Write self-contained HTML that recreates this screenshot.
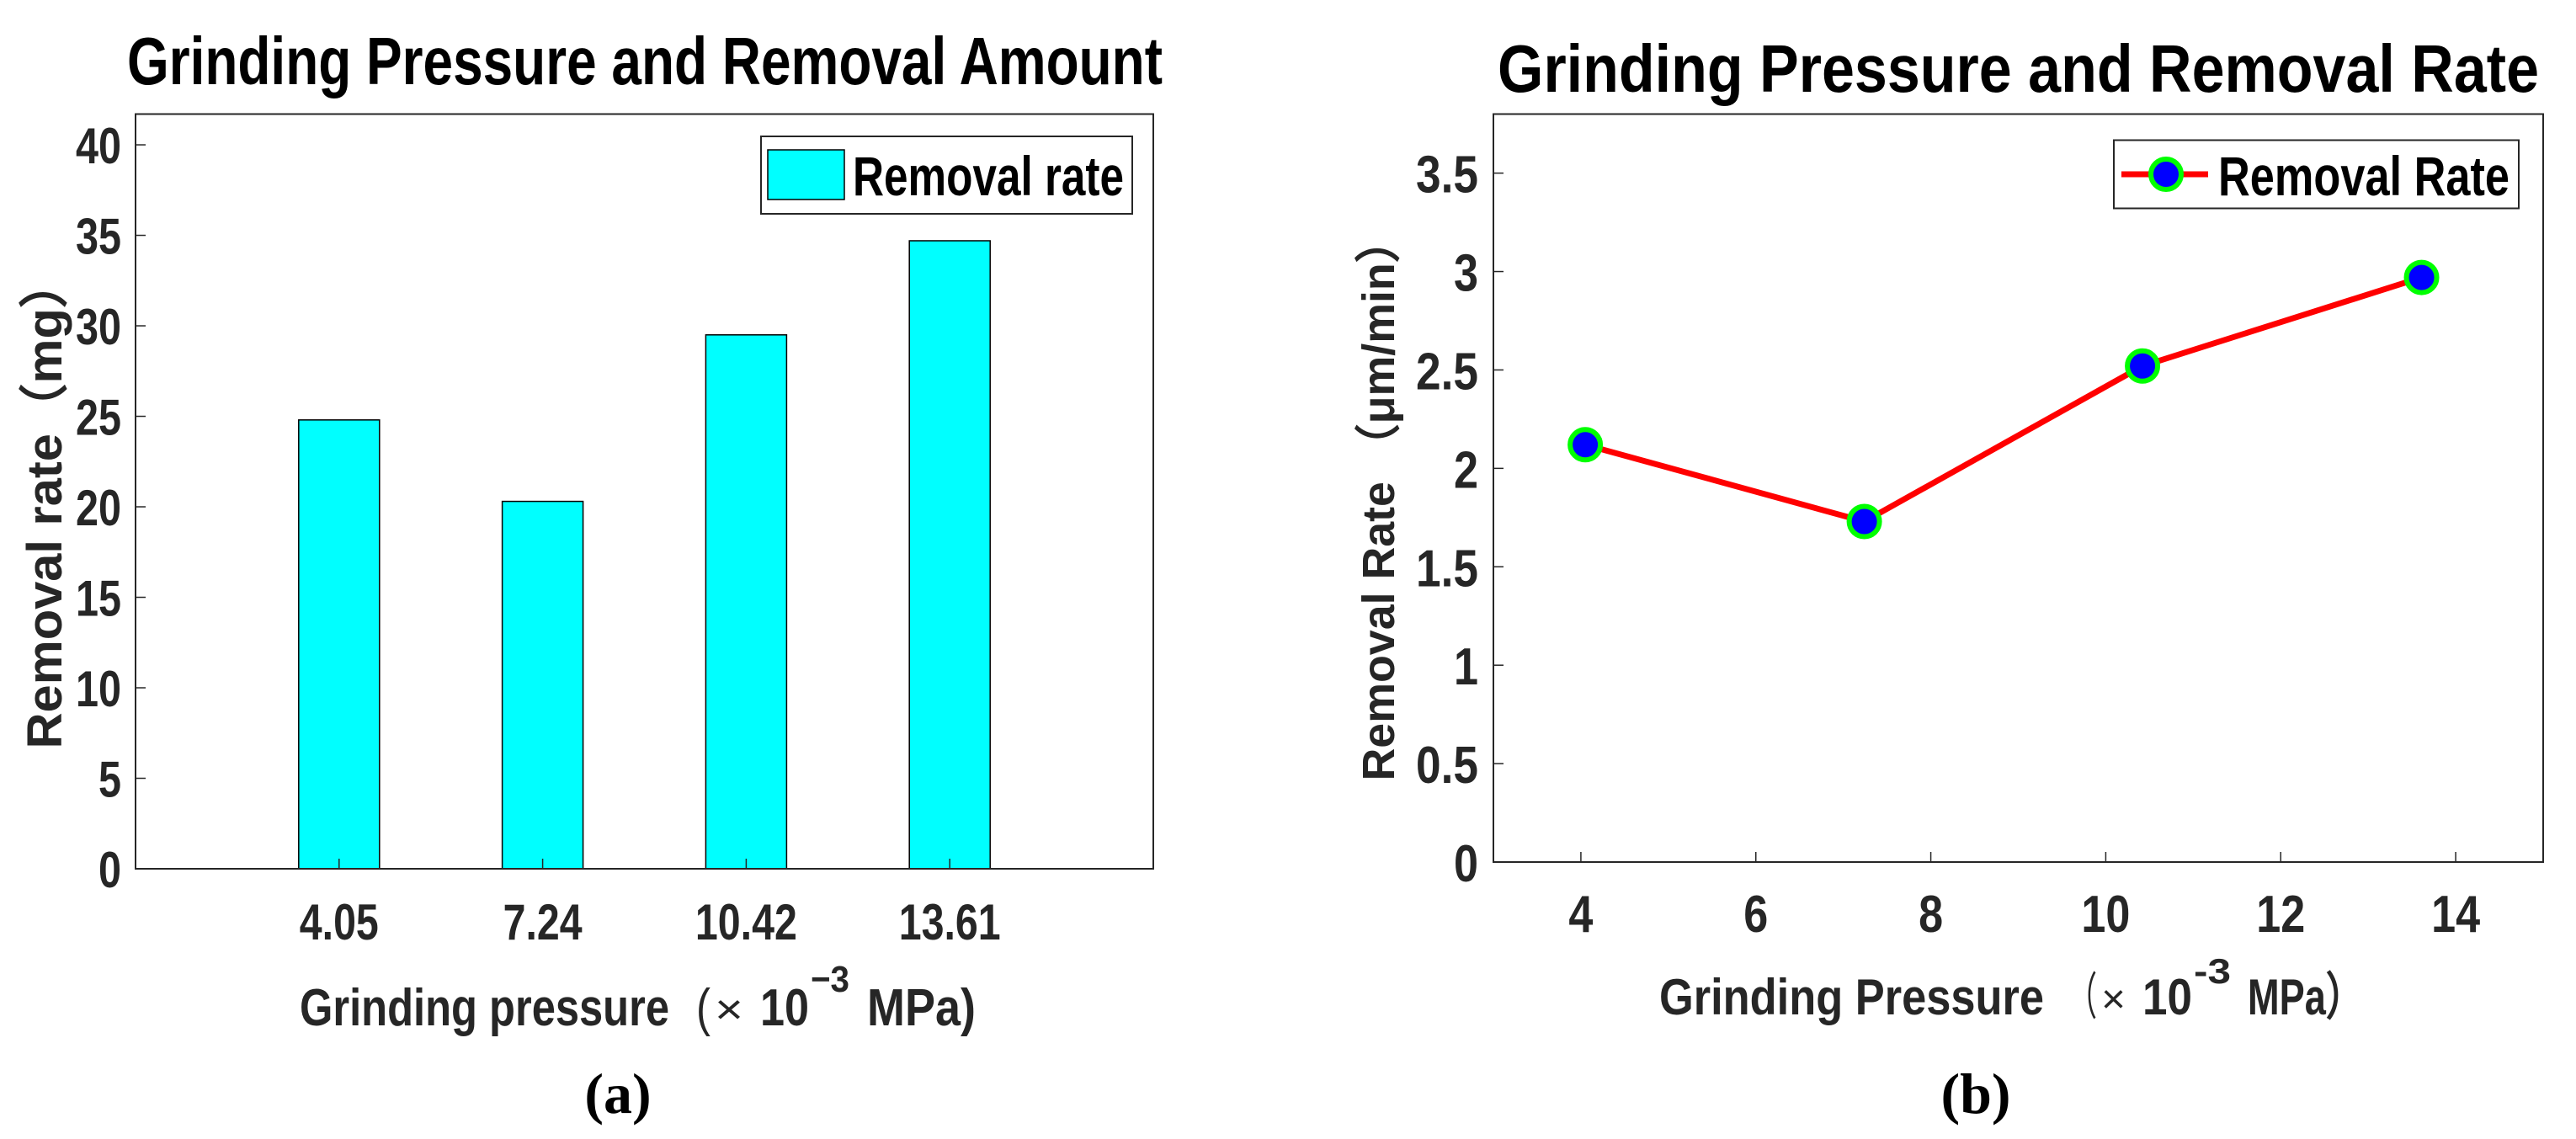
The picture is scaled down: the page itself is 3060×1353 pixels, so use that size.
<!DOCTYPE html>
<html><head><meta charset="utf-8"><style>
html,body{margin:0;padding:0;background:#fff;}
svg{display:block;font-family:"Liberation Sans",sans-serif;font-weight:bold;}
</style></head><body>
<svg id="fig" width="3060" height="1353" viewBox="0 0 3060 1353" xmlns="http://www.w3.org/2000/svg">
<rect width="3060" height="1353" fill="#fff"/>
<g id="ga"></g>
<g id="gb"></g>
</svg>
<script>
// ---- Chart (a) data ----
const catsA = ["4.05", "7.24", "10.42", "13.61"];
const valsA = [24.8, 20.3, 29.5, 34.7];
const yTicksA = [0, 5, 10, 15, 20, 25, 30, 35, 40];
// ---- Chart (b) data ----
const xB = [4.05, 7.24, 10.42, 13.61];
const yB = [2.12, 1.73, 2.52, 2.97];
const xTicksB = [4, 6, 8, 10, 12, 14];
const yTicksB = [0, 0.5, 1, 1.5, 2, 2.5, 3, 3.5];
const yTickLabelsB = ["0", "0.5", "1", "1.5", "2", "2.5", "3", "3.5"];

const NS = "http://www.w3.org/2000/svg";
function mk(parent, tag, attrs, text) {
  const e = document.createElementNS(NS, tag);
  for (const k in attrs) e.setAttribute(k, attrs[k]);
  if (text !== undefined) e.textContent = text;
  parent.appendChild(e);
  return e;
}
function tw(s, d, p) { let w = 0; for (const c of s) w += (c === '.' ? p : d); return w; }
function seg(parent, x, y, w, fs, s, extra) {
  const a = {x: x, y: y, 'font-size': fs, fill: '#262626', textLength: w, lengthAdjust: 'spacingAndGlyphs'};
  if (extra) for (const k in extra) a[k] = extra[k];
  return mk(parent, 'text', a, s);
}

// ===== Chart A =====
const ga = document.getElementById('ga');
const A = {l: 161, r: 1370, t: 135.5, b: 1032, xmin: 0, xmax: 5, ymin: 0, ymax: 41.7};
const axA = i => A.l + (i + 1 - A.xmin) / (A.xmax - A.xmin) * (A.r - A.l);
const ayA = v => A.b - (v - A.ymin) / (A.ymax - A.ymin) * (A.b - A.t);

let t = mk(ga, 'text', {x: 151, y: 100, 'font-size': 80, fill: '#000', textLength: 1230, lengthAdjust: 'spacingAndGlyphs'}, 'Grinding Pressure and Removal Amount');
 

catsA.forEach((c, i) => {
  const x = axA(i), y = ayA(valsA[i]);
  const r = mk(ga, 'rect', {x: x - 48, y: y, width: 96, height: A.b - y, fill: '#00ffff', stroke: '#000', 'stroke-width': 1.5});
  
  
  mk(ga, 'line', {x1: x, x2: x, y1: A.b, y2: A.b - 12, stroke: '#262626', 'stroke-width': 1.5});
  const tl = mk(ga, 'text', {x: x, y: 1116, 'font-size': 60, fill: '#262626', 'text-anchor': 'middle', textLength: tw(c, 27, 13), lengthAdjust: 'spacingAndGlyphs'}, c);
  
  
});
yTicksA.forEach(v => {
  const y = ayA(v);
  mk(ga, 'line', {x1: A.l, x2: A.l + 12, y1: y, y2: y, stroke: '#262626', 'stroke-width': 1.5});
  const s = String(v);
  const tl = mk(ga, 'text', {x: 144, y: y + 22, 'font-size': 60, fill: '#262626', 'text-anchor': 'end', textLength: tw(s, 27, 13), lengthAdjust: 'spacingAndGlyphs'}, s);
  
  
});
mk(ga, 'rect', {x: A.l, y: A.t, width: A.r - A.l, height: A.b - A.t, fill: 'none', stroke: '#262626', 'stroke-width': 2});

// legend a
const lga = mk(ga, 'g', {});
 
mk(lga, 'rect', {x: 904, y: 162, width: 441, height: 92, fill: '#fff', stroke: '#262626', 'stroke-width': 2});
mk(lga, 'rect', {x: 912, y: 178, width: 91, height: 59, fill: '#00ffff', stroke: '#000', 'stroke-width': 1.5});
mk(lga, 'text', {x: 1013, y: 232, 'font-size': 66, fill: '#000', textLength: 322, lengthAdjust: 'spacingAndGlyphs'}, 'Removal rate');

t = mk(ga, 'text', {x: 0, y: 0, 'font-size': 58, fill: '#262626', transform: 'translate(73,598) rotate(-90)', 'text-anchor': 'middle', textLength: 583, lengthAdjust: 'spacingAndGlyphs'}, 'Removal rate（mg）');
 

const xla = mk(ga, 'g', {});
 
seg(xla, 356, 1218, 439, 62, 'Grinding pressure');
seg(xla, 827, 1218, 17, 62, '(', {'font-weight': 'normal'});
seg(xla, 849, 1216, 34, 50, '×', {'font-weight': 'normal'});
seg(xla, 903, 1218, 58, 62, '10');
seg(xla, 963, 1178, 46, 44, '−3');
seg(xla, 1030, 1218, 129, 62, 'MPa)');

t = mk(ga, 'text', {x: 734, y: 1322, 'font-size': 68, fill: '#000', 'font-family': '"Liberation Serif", serif', 'font-weight': 'bold', 'text-anchor': 'middle'}, '(a)');
 

// ===== Chart B =====
const gb = document.getElementById('gb');
const B = {l: 1774, r: 3021, t: 135.5, b: 1024, xmin: 3, xmax: 15, ymin: 0, ymax: 3.8};
const axB = v => B.l + (v - B.xmin) / (B.xmax - B.xmin) * (B.r - B.l);
const ayB = v => B.b - (v - B.ymin) / (B.ymax - B.ymin) * (B.b - B.t);

t = mk(gb, 'text', {x: 1779, y: 109, 'font-size': 80, fill: '#000', textLength: 1237, lengthAdjust: 'spacingAndGlyphs'}, 'Grinding Pressure and Removal Rate');
 

xTicksB.forEach(v => {
  const x = axB(v);
  mk(gb, 'line', {x1: x, x2: x, y1: B.b, y2: B.b - 12, stroke: '#262626', 'stroke-width': 1.5});
  const s = String(v);
  const tl = mk(gb, 'text', {x: x, y: 1107, 'font-size': 62, fill: '#262626', 'text-anchor': 'middle', textLength: tw(s, 29, 14), lengthAdjust: 'spacingAndGlyphs'}, s);
  
  
});
yTicksB.forEach((v, i) => {
  const y = ayB(v);
  mk(gb, 'line', {x1: B.l, x2: B.l + 12, y1: y, y2: y, stroke: '#262626', 'stroke-width': 1.5});
  const s = yTickLabelsB[i];
  const tl = mk(gb, 'text', {x: 1756, y: y + 23, 'font-size': 62, fill: '#262626', 'text-anchor': 'end', textLength: tw(s, 29, 16), lengthAdjust: 'spacingAndGlyphs'}, s);
  
  
});
mk(gb, 'rect', {x: B.l, y: B.t, width: B.r - B.l, height: B.b - B.t, fill: 'none', stroke: '#262626', 'stroke-width': 2});

const pts = xB.map((x, i) => axB(x) + ',' + ayB(yB[i])).join(' ');
const pl = mk(gb, 'polyline', {points: pts, fill: 'none', stroke: '#ff0000', 'stroke-width': 7, 'stroke-linejoin': 'round'});


xB.forEach((x, i) => {
  const c = mk(gb, 'ellipse', {cx: axB(x), cy: ayB(yB[i]), rx: 18, ry: 18, fill: '#0000ff', stroke: '#00ff00', 'stroke-width': 6});
  
  
});

const lgb = mk(gb, 'g', {});
 
mk(lgb, 'rect', {x: 2511, y: 166.5, width: 481, height: 81, fill: '#fff', stroke: '#262626', 'stroke-width': 2});
mk(lgb, 'line', {x1: 2520, x2: 2623, y1: 207, y2: 207, stroke: '#ff0000', 'stroke-width': 7});
mk(lgb, 'ellipse', {cx: 2573, cy: 207, rx: 18, ry: 18, fill: '#0000ff', stroke: '#00ff00', 'stroke-width': 6});
mk(lgb, 'text', {x: 2635, y: 232, 'font-size': 66, fill: '#000', textLength: 346, lengthAdjust: 'spacingAndGlyphs'}, 'Removal Rate');

t = mk(gb, 'text', {x: 0, y: 0, 'font-size': 54, fill: '#262626', transform: 'translate(1656,593) rotate(-90)', 'text-anchor': 'middle', textLength: 669, lengthAdjust: 'spacingAndGlyphs'}, 'Removal Rate （μm/min）');
 

const xlb = mk(gb, 'g', {});
 
seg(xlb, 1971, 1205, 457, 60, 'Grinding Pressure');
seg(xlb, 2457, 1205, 34, 60, '（', {'font-weight': 'normal'});
seg(xlb, 2496, 1203, 29, 48, '×', {'font-weight': 'normal'});
seg(xlb, 2545, 1205, 59, 60, '10');
seg(xlb, 2606, 1168, 44, 42, '-3');
seg(xlb, 2670, 1205, 138, 60, 'MPa）');

t = mk(gb, 'text', {x: 2347, y: 1322, 'font-size': 68, fill: '#000', 'font-family': '"Liberation Serif", serif', 'font-weight': 'bold', 'text-anchor': 'middle'}, '(b)');
 
</script>
</body></html>
